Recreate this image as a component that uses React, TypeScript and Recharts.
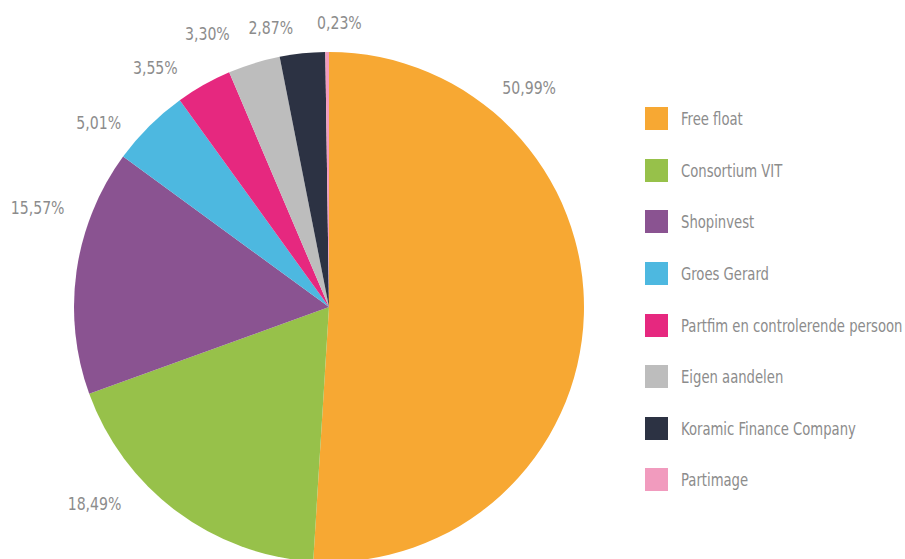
import { PieChart, Pie, Cell, Legend } from 'recharts'

const NAMES = [
  'Free float',
  'Consortium VIT',
  'Shopinvest',
  'Groes Gerard',
  'Partfim en controlerende persoon',
  'Eigen aandelen',
  'Koramic Finance Company',
  'Partimage',
]
const SHARES = [50.99, 18.49, 15.57, 5.01, 3.55, 3.3, 2.87, 0.23]
const COLORS = ['#f7a833', '#97c14a', '#8a5391', '#4db8e0', '#e6287f', '#bdbdbd', '#2c3243', '#f19bbe']

// label placement tweaks (degrees from slice middle, px beyond the rim)
const LABEL_SHIFT = [49.4, -13.2, -10.8, 6.5, 6.5, 6.9, 5.8, -2.5]
const LABEL_GAP = [42, 51, 53, 40, 41, 44, 30, 30]

const FONT = '"Liberation Sans Narrow", "DejaVu Sans Condensed", Roboto, sans-serif'

const data = NAMES.map((name, i) => ({ name, value: SHARES[i] }))

const fmt = (v: number) => v.toFixed(2).replace('.', ',') + '%'

function renderLabel(props: any) {
  const { cx, cy, midAngle, outerRadius, index, value } = props
  const a = ((midAngle + LABEL_SHIFT[index]) * Math.PI) / 180
  const r = outerRadius + LABEL_GAP[index]
  const x = cx + r * Math.cos(a)
  const y = cy - r * Math.sin(a)
  return (
    <text
      transform={`translate(${x},${y}) scale(0.87,1)`}
      textAnchor="middle"
      dominantBaseline="central"
      fill="#8c8c8c"
      fontSize={18}
      fontFamily={FONT}
    >
      {fmt(value)}
    </text>
  )
}

function LegendBox() {
  return (
    <div style={{ fontFamily: FONT }}>
      {NAMES.map((n, i) => (
        <div key={n} style={{ display: 'flex', alignItems: 'center', height: 51.6 }}>
          <span style={{ width: 23, height: 23, flexShrink: 0, background: COLORS[i], display: 'inline-block' }} />
          <span
            style={{
              marginLeft: 13,
              fontSize: 18,
              color: '#8c8c8c',
              whiteSpace: 'nowrap',
              display: 'inline-block',
              transform: 'scaleX(0.815)',
              transformOrigin: 'left center',
            }}
          >
            {n}
          </span>
        </div>
      ))}
    </div>
  )
}

export default function App() {
  return (
    <div style={{ position: 'absolute', left: 0, top: 0, width: 905, height: 559, background: '#fff', overflow: 'hidden' }}>
      <PieChart width={905} height={559} margin={{ top: 0, right: 0, bottom: 0, left: 0 }}>
        <Pie
          data={data}
          dataKey="value"
          nameKey="name"
          cx={329}
          cy={307}
          outerRadius={255}
          startAngle={90}
          endAngle={-270}
          stroke="none"
          label={renderLabel}
          labelLine={false}
          isAnimationActive={false}
        >
          {data.map((_, i) => (
            <Cell key={i} fill={COLORS[i]} />
          ))}
        </Pie>
        <Legend
          content={<LegendBox />}
          wrapperStyle={{ position: 'absolute', left: 645, top: 93, width: 260 }}
        />
      </PieChart>
    </div>
  )
}
